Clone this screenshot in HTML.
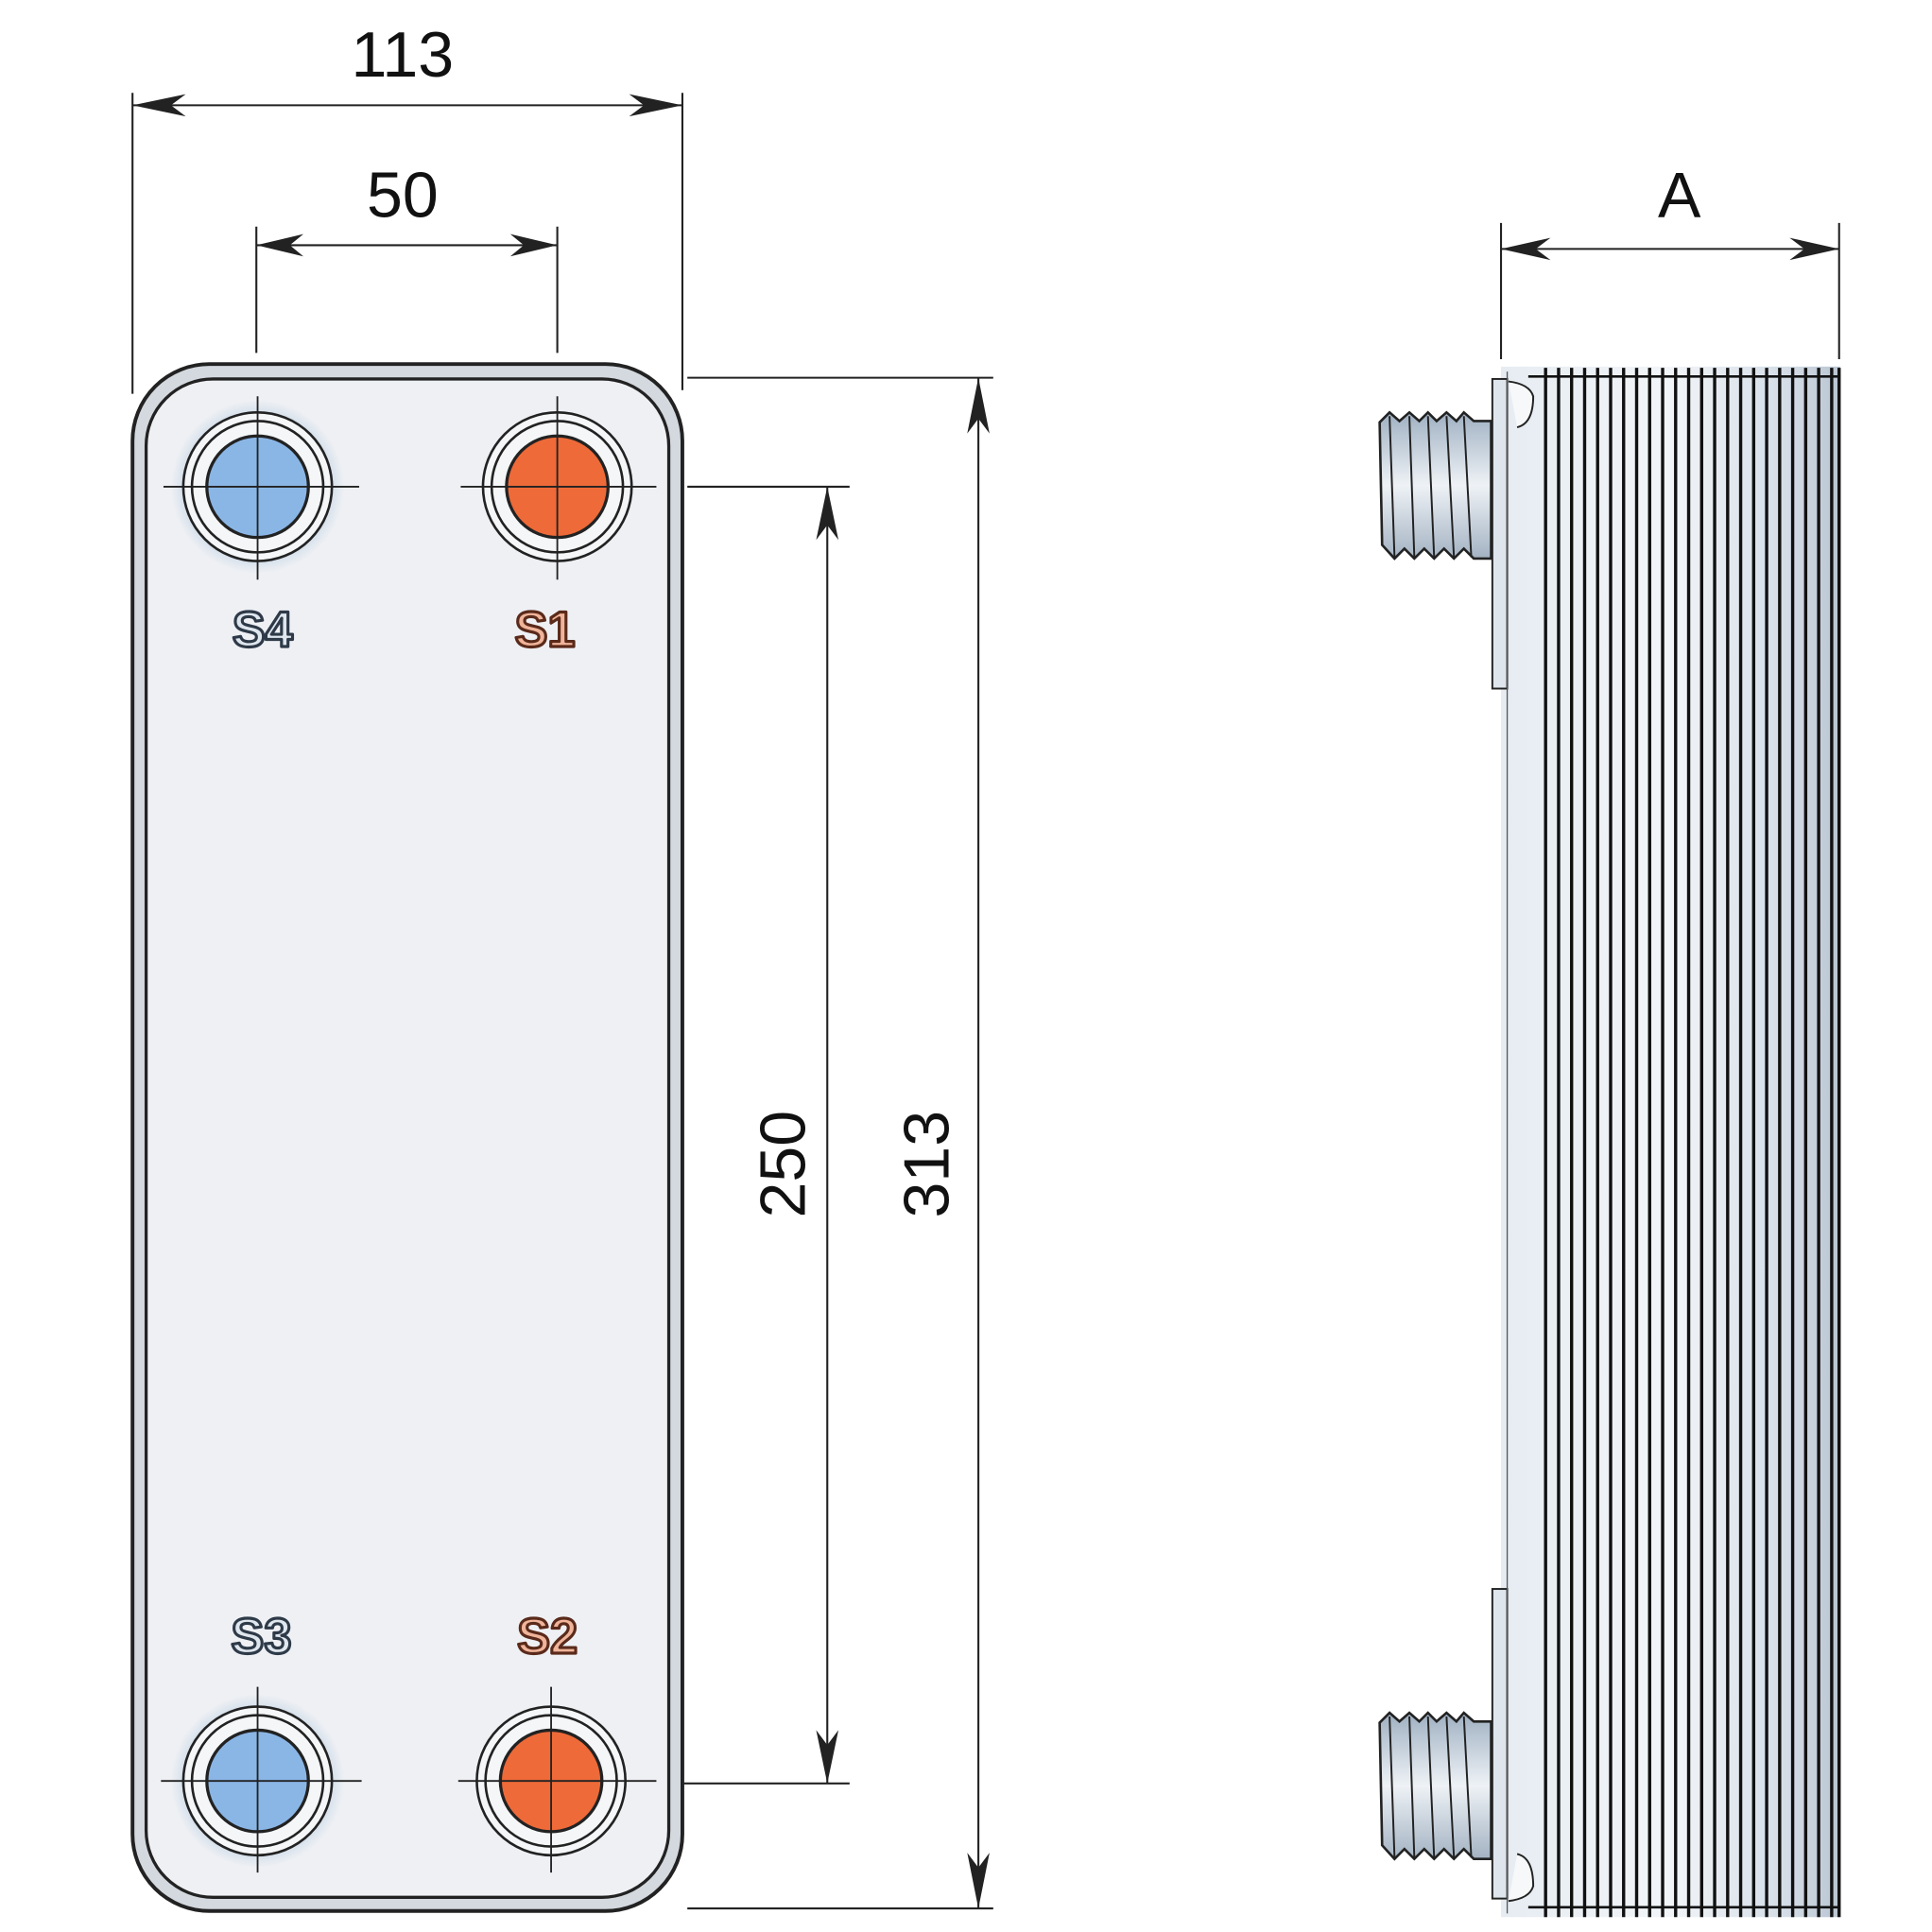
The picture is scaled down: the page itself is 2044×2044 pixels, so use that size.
<!DOCTYPE html>
<html><head><meta charset="utf-8"><style>html,body{margin:0;padding:0;background:#fff}svg{display:block}</style></head>
<body>
<svg width="2044" height="2044" viewBox="0 0 1560 1560" xmlns="http://www.w3.org/2000/svg" font-family="Liberation Sans, sans-serif">
<defs>
<linearGradient id="thr" x1="0" y1="0" x2="0" y2="1">
<stop offset="0" stop-color="#9fb0c2"/><stop offset="0.5" stop-color="#eef2f6"/><stop offset="1" stop-color="#a3b2c2"/>
</linearGradient>
<linearGradient id="body" x1="0" y1="0" x2="1" y2="0">
<stop offset="0" stop-color="#e6ecf2"/><stop offset="0.5" stop-color="#f2f5f8"/><stop offset="0.85" stop-color="#d3dce6"/><stop offset="1" stop-color="#b9c5d2"/>
</linearGradient>
<radialGradient id="glow"><stop offset="0.75" stop-color="#bcd0e4"/><stop offset="1" stop-color="#c9d8e6" stop-opacity="0"/></radialGradient>
</defs>
<g stroke="#222" fill="none" stroke-width="1.6">
<line x1="107" y1="75" x2="107" y2="318"/><line x1="551" y1="75" x2="551" y2="315"/>
<line x1="107" y1="85" x2="551" y2="85"/>
<line x1="207" y1="183" x2="207" y2="285"/><line x1="450" y1="183" x2="450" y2="285"/>
<line x1="207" y1="198" x2="450" y2="198"/>
<line x1="555" y1="305" x2="802" y2="305"/><line x1="555" y1="1541" x2="802" y2="1541"/>
<line x1="790" y1="305" x2="790" y2="1541"/>
<line x1="555" y1="393" x2="686" y2="393"/><line x1="520" y1="1440" x2="686" y2="1440"/>
<line x1="668" y1="393" x2="668" y2="1440"/>
<line x1="1212" y1="180" x2="1212" y2="290"/><line x1="1485" y1="180" x2="1485" y2="290"/>
<line x1="1212" y1="201" x2="1485" y2="201"/>
</g>
<g fill="#222">
<path d="M107 85 L150 76 L138 85 L150 94Z"/><path d="M551 85 L508 76 L520 85 L508 94Z"/>
<path d="M207 198 L245 189 L234 198 L245 207Z"/><path d="M450 198 L412 189 L423 198 L412 207Z"/>
<path d="M1212 201 L1252 192 L1240 201 L1252 210Z"/><path d="M1485 201 L1445 192 L1457 201 L1445 210Z"/>
<path d="M790 305 L781 350 L790 338 L799 350Z"/><path d="M790 1541 L781 1496 L790 1508 L799 1496Z"/>
<path d="M668 393 L659 436 L668 424 L677 436Z"/><path d="M668 1440 L659 1397 L668 1409 L677 1397Z"/>
</g>
<g fill="#111" font-size="52">
<text x="325" y="62" text-anchor="middle">113</text>
<text x="325" y="175" text-anchor="middle">50</text>
<text x="1356" y="175" text-anchor="middle">A</text>
<text transform="translate(650,940) rotate(-90)" text-anchor="middle">250</text>
<text transform="translate(766,940) rotate(-90)" text-anchor="middle">313</text>
</g>
<rect x="107" y="294" width="444" height="1249" rx="62" fill="#d4d9df" stroke="#222" stroke-width="3"/>
<rect x="118" y="306" width="422" height="1226" rx="54" fill="#eef0f4" stroke="#222" stroke-width="2.5"/>
<g stroke="#222">
<circle cx="208" cy="393" r="70" fill="url(#glow)" stroke="none"/>
<circle cx="208" cy="1438" r="70" fill="url(#glow)" stroke="none"/>
<g fill="#f4f6f8" stroke-width="2">
<circle cx="208" cy="393" r="60"/><circle cx="208" cy="393" r="53"/>
<circle cx="450" cy="393" r="60"/><circle cx="450" cy="393" r="53"/>
<circle cx="208" cy="1438" r="60"/><circle cx="208" cy="1438" r="53"/>
<circle cx="445" cy="1438" r="60"/><circle cx="445" cy="1438" r="53"/>
</g>
<g stroke-width="2.5">
<circle cx="208" cy="393" r="41" fill="#8ab6e6"/><circle cx="450" cy="393" r="41" fill="#ee6a38"/>
<circle cx="208" cy="1438" r="41" fill="#8ab6e6"/><circle cx="445" cy="1438" r="41" fill="#ee6a38"/>
</g>
<g stroke-width="1.4">
<line x1="132" y1="393" x2="290" y2="393"/><line x1="208" y1="320" x2="208" y2="468"/>
<line x1="372" y1="393" x2="530" y2="393"/><line x1="450" y1="320" x2="450" y2="468"/>
<line x1="130" y1="1438" x2="292" y2="1438"/><line x1="208" y1="1362" x2="208" y2="1512"/>
<line x1="370" y1="1438" x2="530" y2="1438"/><line x1="445" y1="1362" x2="445" y2="1512"/>
</g>
</g>
<g font-size="40" font-weight="bold" text-anchor="middle" stroke-width="2.4" stroke-linejoin="round">
<text x="212" y="522" fill="#dfe6ee" stroke="#2e3a48">S4</text>
<text x="440" y="522" fill="#f0b49a" stroke="#5a2a1a">S1</text>
<text x="211" y="1335" fill="#dfe6ee" stroke="#2e3a48">S3</text>
<text x="442" y="1335" fill="#f0b49a" stroke="#5a2a1a">S2</text>
</g>
<rect x="1212" y="296" width="274" height="1252" fill="url(#body)"/>
<rect x="1205" y="306" width="12" height="250" fill="#dfe5ec" stroke="#222" stroke-width="1.5"/>
<rect x="1205" y="1283" width="12" height="250" fill="#dfe5ec" stroke="#222" stroke-width="1.5"/>
<line x1="1217" y1="300" x2="1217" y2="1545" stroke="#555" stroke-width="1"/>
<path d="M1218 308 Q1235 310 1238 320 Q1238 342 1225 345" fill="#f6f8fa" stroke="#222" stroke-width="1.5"/>
<path d="M1218 1535 Q1235 1533 1238 1523 Q1238 1500 1225 1497" fill="#f6f8fa" stroke="#222" stroke-width="1.5"/>
<line x1="1234" y1="304" x2="1486" y2="304" stroke="#111" stroke-width="2"/>
<line x1="1234" y1="1540" x2="1486" y2="1540" stroke="#111" stroke-width="2"/>
<g stroke="#111" stroke-width="2.6">
<line x1="1248" y1="297" x2="1248" y2="1548"/><line x1="1258.5" y1="297" x2="1258.5" y2="1548"/>
<line x1="1269" y1="297" x2="1269" y2="1548"/><line x1="1279.5" y1="297" x2="1279.5" y2="1548"/>
<line x1="1290" y1="297" x2="1290" y2="1548"/><line x1="1300.5" y1="297" x2="1300.5" y2="1548"/>
<line x1="1311" y1="297" x2="1311" y2="1548"/><line x1="1321.5" y1="297" x2="1321.5" y2="1548"/>
<line x1="1332" y1="297" x2="1332" y2="1548"/><line x1="1342.5" y1="297" x2="1342.5" y2="1548"/>
<line x1="1353" y1="297" x2="1353" y2="1548"/><line x1="1363.5" y1="297" x2="1363.5" y2="1548"/>
<line x1="1374" y1="297" x2="1374" y2="1548"/><line x1="1384.5" y1="297" x2="1384.5" y2="1548"/>
<line x1="1395" y1="297" x2="1395" y2="1548"/><line x1="1405.5" y1="297" x2="1405.5" y2="1548"/>
<line x1="1416" y1="297" x2="1416" y2="1548"/><line x1="1426.5" y1="297" x2="1426.5" y2="1548"/>
<line x1="1437" y1="297" x2="1437" y2="1548"/><line x1="1447.5" y1="297" x2="1447.5" y2="1548"/>
<line x1="1458" y1="297" x2="1458" y2="1548"/><line x1="1468.5" y1="297" x2="1468.5" y2="1548"/>
<line x1="1479" y1="297" x2="1479" y2="1548"/><line x1="1485" y1="297" x2="1485" y2="1548"/>
</g>
<g stroke="#222" stroke-width="2" fill="url(#thr)">
<path d="M1204 340 L1190 340 L1182 333 L1176 340 L1168 333 L1160 340 L1153 333 L1146 340 L1138 333 L1130 340 L1122 333 L1114 341 L1116 440 L1126 451 L1134 443 L1142 451 L1150 443 L1158 451 L1166 443 L1174 451 L1182 443 L1190 451 L1204 451Z"/>
<path d="M1204 1390 L1190 1390 L1182 1383 L1176 1390 L1168 1383 L1160 1390 L1153 1383 L1146 1390 L1138 1383 L1130 1390 L1122 1383 L1114 1391 L1116 1490 L1126 1501 L1134 1493 L1142 1501 L1150 1493 L1158 1501 L1166 1493 L1174 1501 L1182 1493 L1190 1501 L1204 1501Z"/>
</g>
<g stroke="#222" stroke-width="1.5">
<line x1="1122" y1="336" x2="1126" y2="450"/><line x1="1138" y1="336" x2="1142" y2="450"/><line x1="1153" y1="336" x2="1158" y2="450"/><line x1="1168" y1="336" x2="1174" y2="450"/><line x1="1182" y1="336" x2="1188" y2="450"/>
<line x1="1122" y1="1386" x2="1126" y2="1500"/><line x1="1138" y1="1386" x2="1142" y2="1500"/><line x1="1153" y1="1386" x2="1158" y2="1500"/><line x1="1168" y1="1386" x2="1174" y2="1500"/><line x1="1182" y1="1386" x2="1188" y2="1500"/>
</g>
</svg>
</body></html>
